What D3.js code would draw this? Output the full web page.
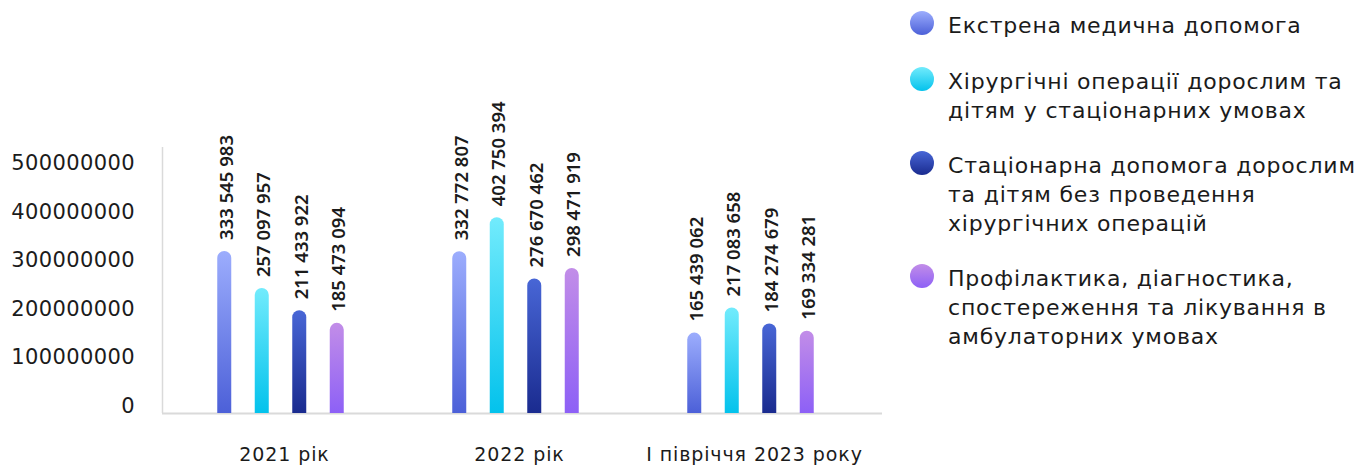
<!DOCTYPE html>
<html><head><meta charset="utf-8">
<script src="https://cdn.jsdelivr.net/npm/d3@7"></script>
<style>
body{margin:0;background:#fff;}
svg{display:block;}
text{font-family:"DejaVu Sans",sans-serif;fill:#1b1b1b;}
</style></head>
<body>
<svg id="c" width="1369" height="465"></svg>
<script>
const categories = ["2021 рік", "2022 рік", "І півріччя 2023 року"];
const seriesNames = [
  ["Екстрена медична допомога"],
  ["Хірургічні операції дорослим та", "дітям у стаціонарних умовах"],
  ["Стаціонарна допомога дорослим", "та дітям без проведення", "хірургічних операцій"],
  ["Профілактика, діагностика,", "спостереження та лікування в", "амбулаторних умовах"]
];
const emergency = [333545983, 332772807, 165439062];
const surgery = [257097957, 402750394, 217083658];
const inpatient = [211433922, 276670462, 184274679];
const outpatient = [185473094, 298471919, 169334281];
const yTicks = [0, 100000000, 200000000, 300000000, 400000000, 500000000];
const gradients = [["#9cadfd", "#4c60d8"], ["#72ebfc", "#03c2ec"], ["#4866d6", "#1a2b8f"], ["#c28de8", "#8d60f6"]];

const series = [emergency, surgery, inpatient, outpatient];
const svg = d3.select("#c");
const defs = svg.append("defs");
gradients.forEach((g, i) => {
  const lg = defs.append("linearGradient").attr("id", "g" + i).attr("x1", 0).attr("y1", 0).attr("x2", 0).attr("y2", 1);
  lg.append("stop").attr("offset", "0%").attr("stop-color", g[0]);
  lg.append("stop").attr("offset", "100%").attr("stop-color", g[1]);
});

const x0 = d3.scaleBand().domain(categories).range([163, 868]);
const x1 = d3.scaleBand().domain(d3.range(4)).range([-75, 75]).padding(0);
const y = d3.scaleLinear().domain([0, 500000000]).range([413, 170]);

// axes lines
svg.append("line").attr("x1", 162.5).attr("x2", 162.5).attr("y1", 147).attr("y2", 413).attr("stroke", "#dadada").attr("stroke-width", 1.5);
svg.append("line").attr("x1", 162).attr("x2", 882).attr("y1", 413.5).attr("y2", 413.5).attr("stroke", "#dadada").attr("stroke-width", 2);

// y tick labels
svg.append("g").selectAll("text").data(yTicks).join("text")
  .attr("x", 135).attr("y", d => y(d)).attr("text-anchor", "end")
  .style("font-size", "21px").style("letter-spacing", "0.4px").text(d => d3.format("d")(d));

// category labels
svg.append("g").selectAll("text").data(categories).join("text")
  .attr("x", d => x0(d) + x0.bandwidth() / 2 + 4).attr("y", 461).attr("text-anchor", "middle")
  .style("font-size", "19px").style("letter-spacing", "0.9px").text(d => d);

const bw = 14;
const fmt = v => d3.format(",")(v).replace(/,/g, " ");
categories.forEach((c, ci) => {
  const cx0 = x0(c) + x0.bandwidth() / 2;
  series.forEach((s, si) => {
    const cx = cx0 + x1(si) + x1.bandwidth() / 2;
    const top = y(s[ci]), bot = y(0), r = bw / 2;
    const p = d3.path();
    p.moveTo(cx - r, bot);
    p.lineTo(cx - r, top + r);
    p.arc(cx, top + r, r, Math.PI, 0);
    p.lineTo(cx + r, bot);
    p.closePath();
    svg.append("path").attr("d", p.toString()).attr("fill", `url(#g${si})`);
    svg.append("text").attr("transform", `translate(${cx + 1},${top - 11}) rotate(-90)`)
      .attr("dominant-baseline", "central")
      .style("font-family", "'Noto Sans',sans-serif").style("font-weight", "600").style("font-size", "18.5px")
      .text(fmt(s[ci]));
  });
});

// legend
const legendY = [33, 89, 173, 286];
const lg = svg.append("g");
seriesNames.forEach((lines, i) => {
  lg.append("circle").attr("cx", 922).attr("cy", legendY[i] - 10).attr("r", 12).attr("fill", `url(#g${i})`);
  lines.forEach((t, li) => {
    lg.append("text").attr("x", 948).attr("y", legendY[i] + li * 29)
      .style("font-size", "22px").style("letter-spacing", "0.8px").text(t);
  });
});
</script>
</body></html>
